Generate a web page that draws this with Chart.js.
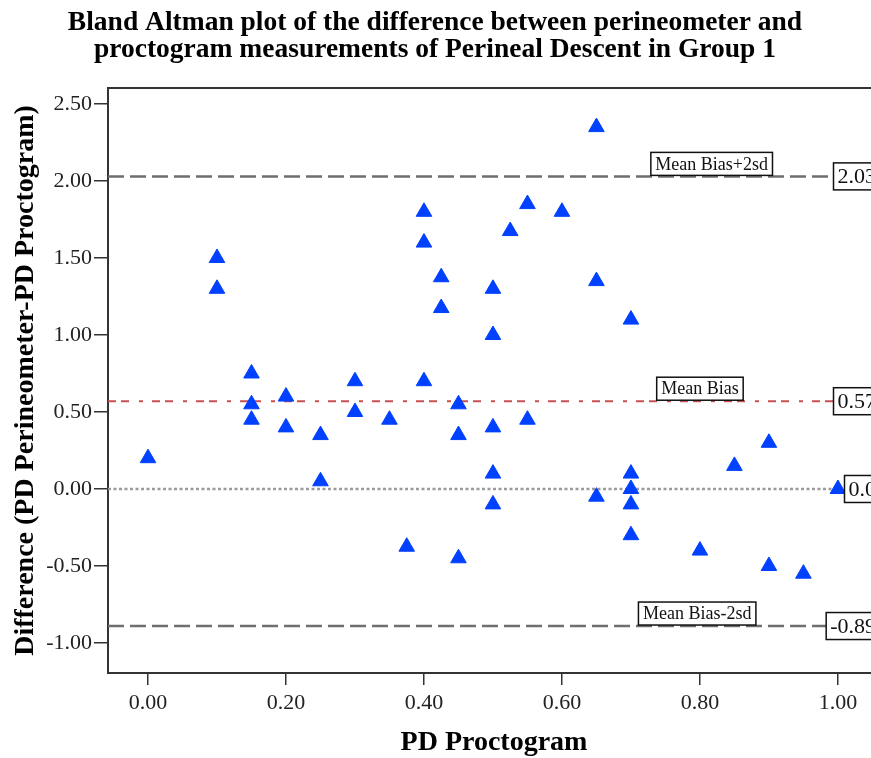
<!DOCTYPE html>
<html>
<head>
<meta charset="utf-8">
<title>Bland Altman plot – Perineal Descent, Group 1</title>
<script src="https://cdn.jsdelivr.net/npm/chart.js@4.4.1/dist/chart.umd.min.js"></script>
<style>
  html, body { margin: 0; padding: 0; background: #fff; overflow: hidden; }
  #wrap { position: relative; left: -10px; width: 890px; height: 758px; }
</style>
</head>
<body>
<div id="wrap"><canvas id="chart"></canvas></div>
<script>
// PD Proctogram (x) and PD Perineometer - PD Proctogram (y), one entry per case
const pdProctogram = [
  0.00,
  0.10, 0.10,
  0.15, 0.15, 0.15,
  0.20, 0.20,
  0.25, 0.25,
  0.30, 0.30,
  0.35,
  0.375,
  0.40, 0.40, 0.40,
  0.425, 0.425,
  0.45, 0.45, 0.45,
  0.50, 0.50, 0.50, 0.50, 0.50,
  0.525,
  0.55, 0.55,
  0.60,
  0.65, 0.65, 0.65,
  0.70, 0.70, 0.70, 0.70, 0.70,
  0.80,
  0.85,
  0.90, 0.90,
  0.95,
  1.00
];
const pdDifference = [
  0.20,
  1.50, 1.30,
  0.75, 0.55, 0.45,
  0.60, 0.40,
  0.35, 0.05,
  0.70, 0.50,
  0.45,
  -0.375,
  1.80, 1.60, 0.70,
  1.375, 1.175,
  0.55, 0.35, -0.45,
  1.30, 1.00, 0.40, 0.10, -0.10,
  1.675,
  1.85, 0.45,
  1.80,
  2.35, 1.35, -0.05,
  1.10, 0.10, 0.00, -0.10, -0.30,
  -0.40,
  0.15,
  0.30, -0.50,
  -0.55,
  0.00
];

// Tick values on both axes
const xTickValues = [0.0, 0.2, 0.4, 0.6, 0.8, 1.0];
const yTickValues = [-1.0, -0.5, 0.0, 0.5, 1.0, 1.5, 2.0, 2.5];

// Reference lines: upper limit, mean bias, zero, lower limit
const refValues = [2.03, 0.57, 0.00, -0.89];
const refNames  = ['Mean Bias+2sd', 'Mean Bias', '', 'Mean Bias-2sd'];

const titleLines = [
  'Bland Altman plot of the difference between perineometer and',
  'proctogram measurements of Perineal Descent in Group 1'
];
const xAxisTitle = 'PD Proctogram';
const yAxisTitle = 'Difference (PD Perineometer-PD Proctogram)';

const SERIF = "'Liberation Serif', 'Times New Roman', Times, serif";
const X_MIN = -0.058, X_MAX = 1.061;
const Y_MIN = -1.195, Y_MAX = 2.604;

const refStyles = [
  { color: '#6e6e6e', width: 2.5, dash: [16, 6] },
  { color: '#c85050', width: 2,   dash: [8, 5, 8, 10, 4, 9] },
  { color: '#9a9a9a', width: 2.5, dash: [3, 2.5] },
  { color: '#6e6e6e', width: 2.5, dash: [16, 6] }
];

const fmtRef = v => (v === 0 ? v.toFixed(1) : v.toFixed(2));

const points = pdProctogram.map((x, i) => ({ x, y: pdDifference[i] }));

const refDatasets = refValues.map((v, i) => ({
  type: 'line',
  data: [{ x: X_MIN, y: v }, { x: X_MAX, y: v }],
  borderColor: refStyles[i].color,
  borderWidth: refStyles[i].width,
  borderDash: refStyles[i].dash,
  pointRadius: 0,
  fill: false,
  order: 2
}));

// Plot frame top edge (left and bottom come from the axes)
const frameTop = {
  id: 'frameTop',
  beforeDatasetsDraw(chart) {
    const { ctx, chartArea } = chart;
    ctx.save();
    ctx.strokeStyle = '#333';
    ctx.lineWidth = 2;
    ctx.beginPath();
    ctx.moveTo(chartArea.left, chartArea.top);
    ctx.lineTo(chartArea.right, chartArea.top);
    ctx.stroke();
    ctx.restore();
  }
};

// Boxed names above the reference lines and boxed values at their right end
const refLabels = {
  id: 'refLabels',
  afterDatasetsDraw(chart, args, opts) {
    const { ctx, chartArea, scales: { x, y } } = chart;
    ctx.save();
    ctx.textBaseline = 'middle';
    ctx.textAlign = 'left';
    refValues.forEach((v, i) => {
      const py = y.getPixelForValue(v);

      const txt = fmtRef(v);
      ctx.font = `22px ${SERIF}`;
      const vw = ctx.measureText(txt).width + 8;
      const vh = 27;
      const vx = chartArea.right - vw;
      ctx.fillStyle = '#fff';
      ctx.fillRect(vx, py - vh / 2, vw, vh);
      ctx.strokeStyle = '#111';
      ctx.lineWidth = 1.5;
      ctx.strokeRect(vx, py - vh / 2, vw, vh);
      ctx.fillStyle = '#111';
      ctx.fillText(txt, vx + 4, py + 1);

      const name = refNames[i];
      if (name) {
        ctx.font = `18px ${SERIF}`;
        const nw = ctx.measureText(name).width + 9;
        const nh = 23;
        const cx = x.getPixelForValue(opts.nameAt[i]);
        const nx = cx - nw / 2;
        const ny = py - 1 - nh;
        ctx.fillStyle = '#fff';
        ctx.fillRect(nx, ny, nw, nh);
        ctx.strokeStyle = '#111';
        ctx.lineWidth = 1.5;
        ctx.strokeRect(nx, ny, nw, nh);
        ctx.fillStyle = '#111';
        ctx.fillText(name, nx + 4.5, ny + nh / 2 + 1);
      }
    });
    ctx.restore();
  }
};

const noEdgePadding = s => {
  s.paddingLeft = 0; s.paddingRight = 0;
  s.paddingTop = 0; s.paddingBottom = 0;
};

new Chart(document.getElementById('chart'), {
  type: 'scatter',
  data: {
    datasets: [
      {
        data: points,
        pointStyle: 'triangle',
        pointRadius: 9,
        pointHoverRadius: 9,
        backgroundColor: '#0040ff',
        borderColor: '#0040ff',
        borderWidth: 1,
        order: 1
      },
      ...refDatasets
    ]
  },
  options: {
    responsive: true,
    maintainAspectRatio: false,
    animation: false,
    devicePixelRatio: 1,
    events: [],
    layout: { padding: 0, autoPadding: false },
    plugins: {
      legend: { display: false },
      tooltip: { enabled: false },
      title: {
        display: true,
        text: titleLines,
        color: '#000',
        font: { family: SERIF, size: 27.5, weight: 'bold', lineHeight: 1 },
        padding: { top: 9, bottom: 24 }
      },
      refLabels: { nameAt: [0.817, 0.80, null, 0.796] }
    },
    scales: {
      x: {
        type: 'linear',
        min: X_MIN,
        max: X_MAX,
        afterBuildTicks: s => { s.ticks = xTickValues.map(v => ({ value: v })); },
        afterFit: s => { s.height = 85; noEdgePadding(s); },
        ticks: {
          color: '#222',
          padding: 5,
          font: { family: SERIF, size: 22 },
          callback: v => Number(v).toFixed(2)
        },
        grid: { drawOnChartArea: false, drawTicks: true, tickLength: 12, color: '#333', lineWidth: 1.5 },
        border: { display: true, color: '#333', width: 2 },
        title: {
          display: true,
          text: xAxisTitle,
          color: '#000',
          font: { family: SERIF, size: 28, weight: 'bold', lineHeight: 1 },
          padding: { top: 0, bottom: 1 }
        }
      },
      y: {
        type: 'linear',
        min: Y_MIN,
        max: Y_MAX,
        afterBuildTicks: s => { s.ticks = yTickValues.map(v => ({ value: v })); },
        afterFit: s => { s.width = 118; noEdgePadding(s); },
        ticks: {
          color: '#222',
          padding: 2,
          font: { family: SERIF, size: 22 },
          callback: v => Number(v).toFixed(2)
        },
        grid: { drawOnChartArea: false, drawTicks: true, tickLength: 14, color: '#333', lineWidth: 1.5 },
        border: { display: true, color: '#333', width: 2 },
        title: {
          display: true,
          text: yAxisTitle,
          color: '#000',
          font: { family: SERIF, size: 28, weight: 'bold', lineHeight: 1 },
          padding: { top: 22, bottom: 0 }
        }
      }
    }
  },
  plugins: [frameTop, refLabels]
});
</script>
</body>
</html>
